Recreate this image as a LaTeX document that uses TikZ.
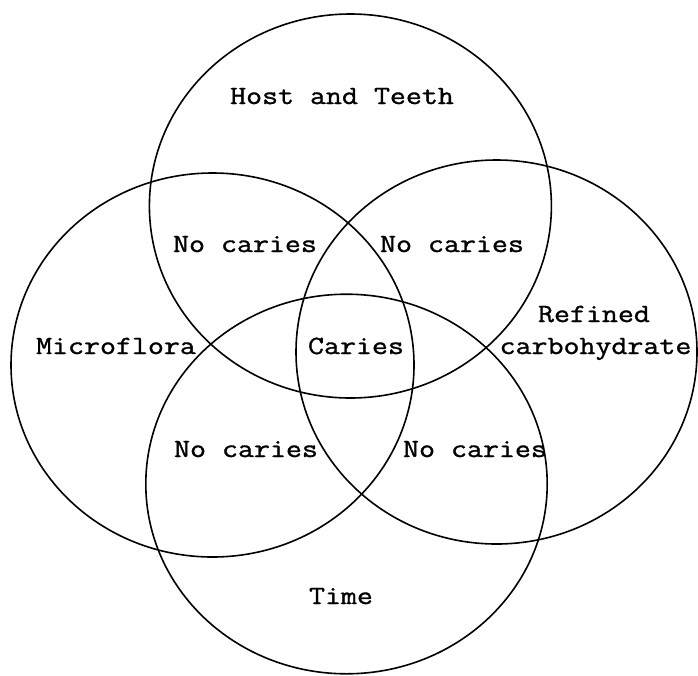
\documentclass[tikz,border=0pt]{standalone}
\usepackage{fontspec}
\newfontfamily\courlike[FakeStretch=1.18,FakeBold=1.2]{Latin Modern Mono}
\begin{document}
\begin{tikzpicture}[x=1pt,y=-1pt,
  setring/.style={draw=black,line width=1.6pt},
  lbl/.style={anchor=base,inner sep=0pt,font=\courlike\fontsize{26.3}{31}\selectfont}]
\useasboundingbox (0,0) rectangle (698,675);
\coordinate (host) at (350.4,206);
\coordinate (micro) at (212.5,365);
\coordinate (carb) at (496.5,352);
\coordinate (time) at (346.5,484);
\draw[setring] (host) ellipse [x radius=201, y radius=192];
\draw[setring] (micro) ellipse [x radius=201.5, y radius=192];
\draw[setring] (carb) ellipse [x radius=200.5, y radius=192];
\draw[setring] (time) ellipse [x radius=200.7, y radius=189.8];
\node[lbl] (thost) at (342,104) {Host and Teeth};
\node[lbl] (ntl) at (245,252) {No caries};
\node[lbl] (ntr) at (452,252) {No caries};
\node[lbl] (tmicro) at (116,354) {Microflora};
\node[lbl] (tcar) at (356,354) {Caries};
\node[lbl] (tref) at (594,322) {Refined};
\node[lbl] (tcarb) at (595.5,354) {carbohydrate};
\node[lbl] (nbl) at (246,457) {No caries};
\node[lbl] (nbr) at (475,457) {No caries};
\node[lbl] (ttime) at (341,604) {Time};
\end{tikzpicture}
\end{document}
